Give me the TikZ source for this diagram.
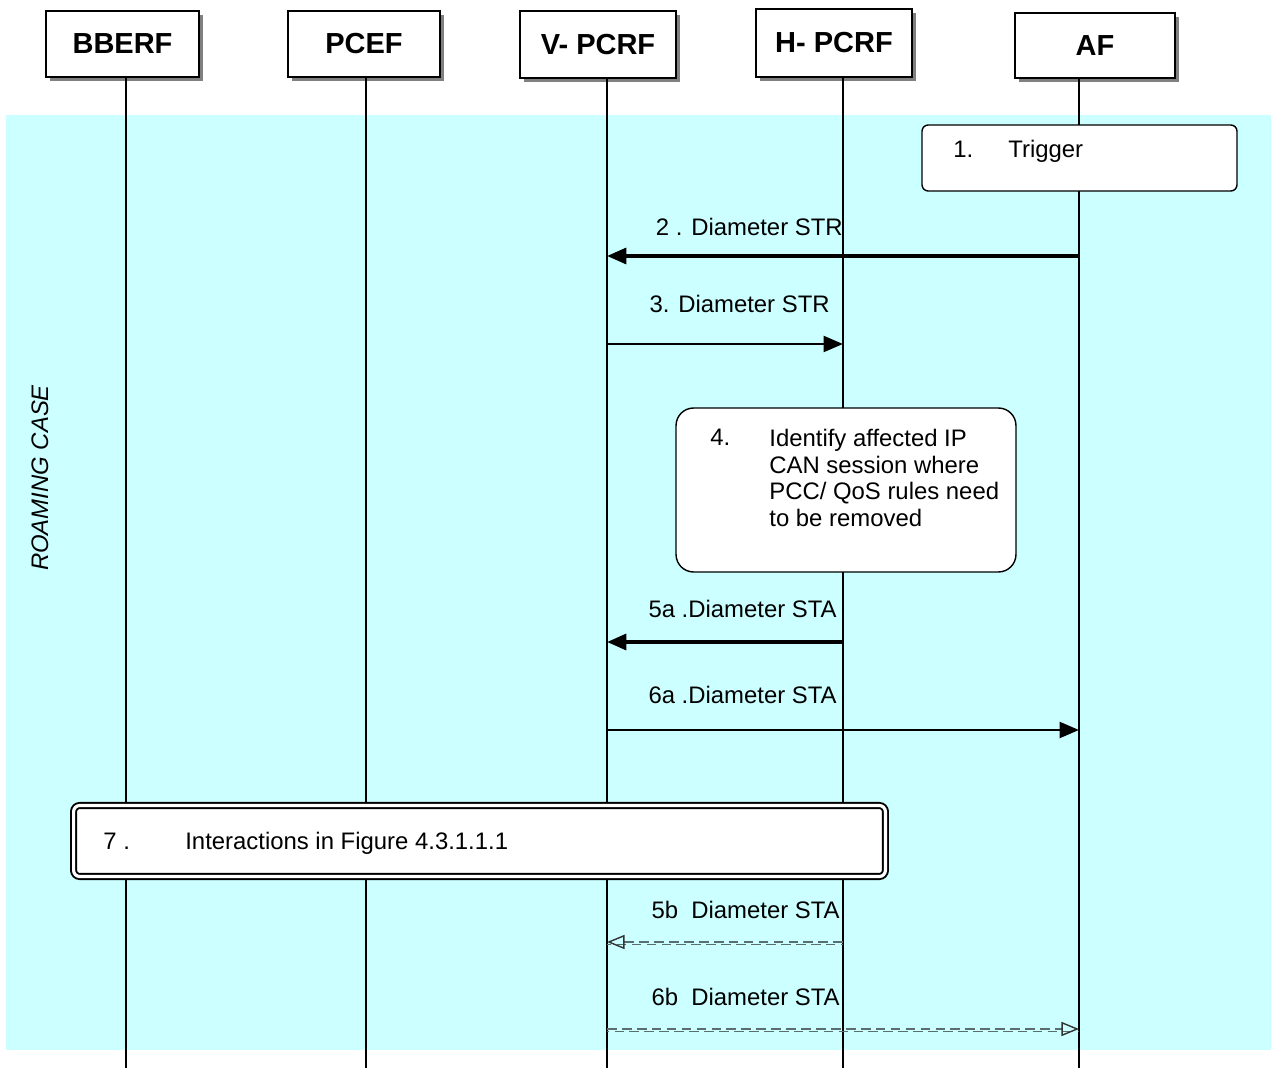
\documentclass[tikz,border=0pt]{standalone}
\usepackage{fontspec}
\setmainfont{Liberation Sans}
\usetikzlibrary{arrows.meta,shadows}

\definecolor{roamcyan}{RGB}{204,255,255}
\definecolor{shadowgray}{RGB}{128,128,128}
\definecolor{dashgray}{RGB}{90,110,110}

\tikzset{
  entity/.style={draw, fill=white, line width=0.9pt, font=\fontsize{16.5}{19}\selectfont\bfseries,
    drop shadow={shadow xshift=2.2pt, shadow yshift=-2.2pt, fill=shadowgray, opacity=1}},
  lifeline/.style={line width=0.8pt},
  stepbox/.style={draw, fill=white, line width=0.8pt, rounded corners=3.5pt, inner sep=0pt},
  msg/.style={font=\fontsize{13.6}{15.3}\selectfont, inner sep=0pt},
  thickmsg/.style={line width=2.1pt, -{Triangle[length=11pt,width=9pt]}},
  plainmsg/.style={line width=1.5pt, -{Triangle[length=11pt,width=9pt]}},
  optmsg/.style={line width=0.8pt, draw=dashgray, dash pattern=on 5.5pt off 3pt,
    -{Triangle[open,length=10pt,width=8pt,color=black!80]}},
  optback/.style={line width=0.8pt, draw=dashgray, dash pattern=on 5.5pt off 3pt, dash phase=4.2pt,
    transform canvas={yshift=-1.3pt}}
}

\begin{document}
\begin{tikzpicture}[x=0.02cm, y=-0.02cm]
  \useasboundingbox (0,0) rectangle (1271,1070);
  % roaming area
  \fill[roamcyan] (6,115) rectangle (1271,1050);
  \node[msg, rotate=90, font=\fontsize{13.6}{15.3}\selectfont\itshape] (roam) at (40,478) {ROAMING CASE};

  % entities and lifelines
  \foreach \n/\t/\x/\y/\w/\h in {bberf/BBERF/122.5/44/3.06/1.32, pcef/PCEF/364/44/3.04/1.32,
      vpcrf/V- PCRF/598/44.5/3.12/1.34, hpcrf/H- PCRF/834/43/3.12/1.36, af/AF/1095/45.5/3.2/1.3}
    \node[entity, minimum width=\w cm, minimum height=\h cm] (\n) at (\x,\y) {\t};
  \foreach \n/\x in {bberf/126, pcef/366, vpcrf/607, hpcrf/843, af/1079}{
    \coordinate (\n-top) at (\x,78);
    \coordinate (\n-bot) at (\x,1068);
    \draw[lifeline] (\n-top) -- (\n-bot);
  }

  % step boxes
  \node[stepbox, minimum width=6.3cm, minimum height=1.32cm] (trig) at (1079.5,158) {};
  \node[msg, anchor=base west] (n1) at (953,158) {1.};
  \node[msg, anchor=base west] (t1) at (1008,158) {Trigger};

  \node[stepbox, rounded corners=10pt, minimum width=6.8cm, minimum height=3.28cm] (ident) at (846,490) {};
  \node[msg, anchor=base west] (n4) at (710,446) {4.};
  \node[msg, anchor=north west, align=left] (t4) at (769,428.5) {Identify affected IP\\CAN session where\\PCC/ QoS rules need\\to be removed};

  \node[stepbox, double=white, double distance=1.8pt, line width=1.1pt, minimum width=16.24cm, minimum height=1.42cm] (inter) at (479.5,841) {};
  \node[msg, anchor=base west] (n7) at (103,849) {7 .};
  \node[msg, anchor=base west] (t7) at (185,849) {Interactions in Figure 4.3.1.1.1};

  % messages
  \draw[thickmsg] (af-top |- 0,256) -- (vpcrf-top |- 0,256);
  \node[msg, anchor=base east] (l2) at (843,236) {2 . Diameter STR};
  \draw[plainmsg] (vpcrf-top |- 0,344) -- (hpcrf-top |- 0,344);
  \node[msg, anchor=base east] (l3) at (830,313) {3. Diameter STR};
  \draw[thickmsg] (hpcrf-top |- 0,642) -- (vpcrf-top |- 0,642);
  \node[msg, anchor=base east] (l5a) at (837,618) {5a .Diameter STA};
  \draw[plainmsg] (vpcrf-top |- 0,730) -- (af-top |- 0,730);
  \node[msg, anchor=base east] (l6a) at (837,704) {6a .Diameter STA};
  \draw[optback] (hpcrf-top |- 0,942) -- (vpcrf-top |- 0,942);
  \draw[optmsg] (hpcrf-top |- 0,942) -- (vpcrf-top |- 0,942);
  \node[msg, anchor=base east] (l5b) at (840,918) {5b\ \ Diameter STA};
  \draw[optback] (vpcrf-top |- 0,1029) -- (af-top |- 0,1029);
  \draw[optmsg] (vpcrf-top |- 0,1029) -- (af-top |- 0,1029);
  \node[msg, anchor=base east] (l6b) at (840,1005) {6b\ \ Diameter STA};
\end{tikzpicture}
\end{document}
